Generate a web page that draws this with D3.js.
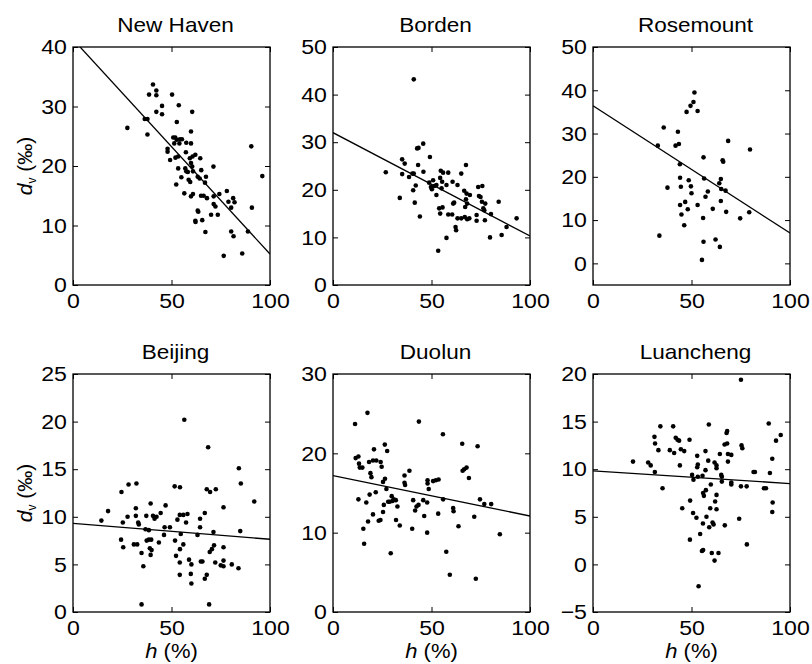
<!DOCTYPE html>
<html lang="en">
<head>
  <meta charset="UTF-8">
  <title>d-excess vs relative humidity</title>
  <script src="https://d3js.org/d3.v7.min.js"></script>
  <style>
    body { margin: 0; background: #fff; }
    svg text { font-family: "Liberation Sans", Arial, sans-serif; fill: #000; }
    .axis path { display: none; }
    .axis line { stroke: #000; stroke-width: 1; }
    .axis text { font-size: 21px; }
    .frame { fill: none; stroke: #000; stroke-width: 1.3; }
    .fit { fill: none; stroke: #000; stroke-width: 1.3; }
    .title { font-size: 20.5px; text-anchor: middle; }
    .label { font-size: 21px; text-anchor: middle; }
    .xlabel { font-size: 20px; text-anchor: middle; }
  </style>
</head>
<body>
  <div id="chart"></div>

  <script>
    const sites = ["New Haven", "Borden", "Rosemount", "Beijing", "Duolun", "Luancheng"];
    const yDomains = [[0, 40], [0, 50], [-5, 50], [0, 25], [0, 30], [-5, 20]];
    const yTicks = [
      [0, 10, 20, 30, 40],
      [0, 10, 20, 30, 40, 50],
      [0, 10, 20, 30, 40, 50],
      [0, 5, 10, 15, 20, 25],
      [0, 10, 20, 30],
      [-5, 0, 5, 10, 15, 20]
    ];
    const xTicks = [0, 50, 100];
    const fitIntercept = [41.3, 32.0, 36.4, 9.3, 17.2, 9.82];
    const fitSlope = [-0.361, -0.217, -0.294, -0.0166, -0.051, -0.0133];

    // [h (%), d_v (permil)]
    const newHaven = [
      [27.6, 26.4], [36.4, 27.9], [37.8, 27.9], [37.8, 25.3], [38.6, 32.0], [40.6, 33.7], [42.3, 32.7],
      [42.3, 31.9], [42.3, 29.1], [45.2, 30.1], [45.2, 28.7], [50.3, 32.0], [53.7, 30.2], [60.5, 29.1],
      [59.9, 25.8], [52.7, 27.4], [50.9, 24.8], [51.9, 24.8], [52.6, 24.4], [54.3, 24.5], [55.3, 24.5],
      [54.0, 23.8], [57.5, 23.9], [51.4, 23.8], [48.0, 22.9], [48.0, 22.4], [49.3, 21.0], [52.0, 21.4],
      [53.4, 21.6], [57.3, 22.3], [59.3, 21.3], [60.7, 21.6], [62.1, 21.9], [64.6, 21.3], [59.9, 20.5],
      [57.0, 19.6], [53.4, 19.6], [57.5, 19.1], [58.3, 19.0], [60.5, 19.9], [60.9, 19.1], [65.1, 19.3],
      [71.3, 19.9], [67.5, 18.2], [52.4, 16.9], [55.0, 18.1], [58.7, 17.7], [59.5, 17.3], [63.3, 18.2],
      [64.3, 17.9], [67.0, 17.2], [56.5, 15.4], [60.9, 15.3], [59.9, 14.9], [65.0, 15.0], [66.3, 15.0],
      [68.0, 14.6], [71.4, 14.9], [74.3, 15.3], [78.1, 15.8], [78.9, 14.0], [81.3, 14.6], [82.0, 13.9],
      [80.3, 13.0], [71.4, 13.6], [72.3, 13.2], [63.3, 12.5], [63.6, 12.3], [70.1, 11.8], [73.5, 11.8],
      [62.1, 10.8], [62.2, 10.6], [65.6, 10.9], [67.2, 8.9], [80.3, 9.0], [81.5, 8.2], [88.8, 9.0],
      [76.5, 4.9], [85.9, 5.3], [90.5, 23.3], [90.8, 13.0], [96.1, 18.3], [59.9, 23.8]
    ];
    const borden = [
      [26.8, 23.7], [41.0, 43.2], [33.9, 18.3], [35.1, 26.4], [36.4, 25.5], [35.1, 23.3], [38.6, 22.7],
      [40.3, 23.4], [41.0, 23.4], [40.7, 19.9], [42.0, 20.9], [41.5, 17.3], [42.7, 28.7], [43.4, 28.8],
      [45.8, 29.7], [43.2, 25.2], [45.9, 23.8], [44.1, 14.4], [49.2, 26.9], [48.8, 21.5], [49.7, 20.6],
      [50.2, 20.1], [50.8, 22.0], [51.5, 20.8], [52.5, 21.0], [52.5, 18.9], [54.4, 22.5], [54.7, 24.0],
      [55.9, 23.6], [58.5, 23.6], [55.4, 21.7], [57.6, 21.0], [60.7, 21.7], [63.2, 21.0], [65.1, 23.4],
      [67.5, 25.2], [55.1, 20.3], [53.9, 16.1], [55.6, 16.3], [54.4, 15.0], [58.5, 14.8], [60.5, 14.8],
      [61.0, 17.1], [61.5, 17.3], [63.2, 14.0], [62.2, 12.2], [62.5, 11.5], [57.6, 9.9], [53.4, 7.2],
      [66.6, 19.8], [67.8, 19.2], [69.5, 18.9], [67.5, 18.0], [67.1, 16.4], [68.1, 17.1], [66.9, 14.3],
      [68.1, 13.8], [69.2, 14.0], [65.1, 14.0], [72.9, 14.7], [72.9, 13.5], [73.7, 20.6], [75.8, 20.8],
      [74.1, 18.7], [74.9, 18.5], [75.6, 17.5], [77.3, 17.1], [76.3, 16.1], [76.8, 15.7], [80.2, 14.9],
      [77.1, 13.6], [84.1, 17.5], [88.1, 12.2], [85.6, 10.5], [79.7, 10.0], [93.2, 14.0]
    ];
    const rosemount = [
      [32.9, 27.2], [35.9, 31.4], [33.7, 6.4], [37.8, 17.5], [43.1, 30.4], [41.9, 27.2], [43.6, 27.6],
      [44.1, 22.9], [44.2, 19.8], [44.6, 17.7], [44.2, 13.5], [44.9, 11.3], [46.8, 14.2], [46.3, 8.8],
      [47.5, 35.0], [49.5, 36.4], [51.0, 37.3], [51.5, 39.5], [53.1, 35.2], [48.6, 19.2], [49.7, 17.8],
      [50.0, 16.2], [48.1, 12.5], [53.1, 13.5], [56.1, 24.5], [56.4, 19.6], [57.1, 15.4], [58.3, 16.6],
      [55.9, 10.5], [56.1, 5.0], [55.3, 0.8], [60.8, 12.6], [62.2, 5.5], [64.4, 3.8], [64.1, 18.5],
      [64.9, 19.5], [65.8, 23.8], [66.1, 23.5], [65.1, 17.2], [67.3, 16.8], [64.9, 14.4], [67.6, 11.9],
      [68.6, 28.3], [74.7, 10.4], [79.3, 11.8], [79.7, 26.3]
    ];
    const beijing = [
      [14.4, 9.6], [17.8, 10.6], [24.6, 12.6], [25.3, 9.4], [24.4, 7.6], [25.5, 6.8], [27.7, 10.0],
      [28.2, 13.4], [30.9, 7.1], [31.9, 10.1], [31.9, 10.9], [32.2, 13.5], [32.6, 7.1], [33.1, 9.4],
      [33.4, 9.2], [34.8, 6.2], [35.7, 4.8], [34.8, 0.8], [36.8, 8.7], [37.4, 7.5], [37.2, 10.1],
      [38.5, 7.6], [38.5, 8.6], [39.4, 11.4], [39.4, 6.0], [39.0, 6.7], [39.9, 6.5], [39.7, 7.6],
      [40.6, 10.1], [41.4, 9.8], [42.4, 10.0], [43.6, 7.3], [44.5, 10.4], [46.2, 8.1], [46.5, 8.9],
      [47.0, 11.2], [49.2, 8.9], [51.8, 7.5], [51.6, 13.2], [53.0, 9.7], [52.3, 5.9], [54.3, 13.1],
      [54.2, 10.2], [54.7, 8.2], [54.3, 6.6], [54.2, 5.2], [54.2, 3.9], [56.0, 10.2], [56.5, 20.2],
      [57.4, 9.4], [58.1, 10.3], [56.0, 7.1], [58.9, 5.5], [60.1, 5.0], [59.8, 4.0], [60.1, 3.0],
      [63.2, 8.1], [64.5, 9.8], [64.5, 8.9], [64.9, 5.3], [65.7, 5.3], [66.9, 10.4], [66.9, 3.5],
      [67.9, 3.9], [67.9, 12.9], [68.6, 17.3], [69.6, 12.6], [69.4, 6.3], [69.1, 0.8], [70.5, 6.6],
      [71.3, 8.4], [71.6, 7.0], [72.5, 12.9], [72.2, 5.2], [75.0, 4.9], [76.4, 6.8], [76.4, 11.0],
      [76.4, 5.4], [76.4, 4.8], [80.6, 5.0], [84.0, 4.6], [84.2, 15.1], [84.9, 8.5], [85.2, 13.5],
      [92.0, 11.6]
    ];
    const duolun = [
      [11.2, 23.7], [11.5, 19.4], [12.9, 19.6], [13.2, 18.7], [13.6, 18.2], [14.9, 18.2], [12.9, 14.2],
      [15.4, 10.5], [15.8, 8.6], [17.5, 25.1], [17.8, 11.4], [16.9, 13.8], [18.6, 14.8], [18.3, 18.9],
      [19.0, 17.5], [19.5, 17.0], [20.3, 19.1], [20.8, 20.5], [21.7, 15.1], [20.3, 12.3], [22.0, 19.1],
      [23.2, 11.5], [24.1, 11.6], [24.2, 18.9], [24.7, 18.3], [25.4, 12.6], [25.8, 13.5], [25.4, 16.4],
      [26.3, 21.1], [26.4, 16.8], [27.1, 15.5], [27.5, 20.3], [28.0, 13.9], [28.8, 13.9], [29.8, 14.6],
      [30.2, 14.0], [30.8, 14.2], [31.9, 14.1], [32.7, 13.3], [29.3, 7.4], [32.0, 11.6], [33.9, 10.9],
      [36.3, 17.2], [36.3, 16.3], [36.6, 16.0], [38.8, 17.8], [40.2, 10.5], [40.7, 14.1], [41.7, 12.8],
      [42.4, 13.3], [43.4, 13.5], [43.6, 24.0], [45.8, 14.1], [46.3, 12.1], [47.8, 13.8], [47.8, 10.0],
      [48.0, 16.6], [48.0, 16.2], [48.6, 15.5], [50.8, 16.5], [52.2, 16.6], [53.6, 16.7], [53.4, 12.4],
      [55.8, 22.4], [55.9, 14.2], [57.5, 7.6], [59.3, 4.7], [61.0, 13.1], [61.2, 12.7], [63.7, 10.8],
      [65.6, 21.2], [65.8, 17.8], [66.6, 18.0], [67.8, 18.2], [69.0, 16.9], [71.7, 12.0], [72.5, 4.2],
      [73.4, 20.9], [74.6, 14.2], [76.8, 13.6], [80.3, 13.6], [84.7, 9.8]
    ];
    const luancheng = [
      [20.3, 10.8], [28.0, 10.7], [29.3, 10.4], [31.4, 9.7], [31.2, 13.4], [31.5, 12.7], [33.2, 12.0],
      [34.2, 14.5], [35.3, 8.0], [39.0, 12.0], [40.7, 14.5], [41.2, 11.7], [42.0, 13.3], [42.9, 13.1],
      [43.7, 13.0], [44.1, 10.4], [44.6, 12.1], [46.3, 11.9], [45.3, 5.9], [49.0, 13.1], [49.3, 6.7],
      [49.2, 2.6], [50.3, 9.4], [51.0, 8.9], [50.8, 5.4], [52.5, 4.9], [52.9, 11.4], [53.2, 10.5],
      [52.9, 10.2], [53.2, 9.2], [54.4, 3.2], [55.3, 1.4], [55.9, 1.5], [53.6, -2.3], [55.6, 9.3],
      [55.9, 7.5], [56.3, 7.2], [55.8, 4.3], [57.1, 11.9], [57.1, 9.9], [57.3, 7.8], [57.6, 5.0],
      [58.8, 14.7], [58.5, 10.9], [59.0, 3.9], [59.8, 8.4], [59.5, 5.9], [60.7, 4.4], [61.2, 4.2],
      [60.3, 1.2], [61.7, 0.4], [61.7, 10.7], [62.0, 6.6], [62.7, 10.4], [62.7, 10.1], [62.7, 7.3],
      [62.7, 5.8], [63.7, 1.2], [64.4, 11.6], [65.1, 9.4], [65.4, 9.2], [65.4, 8.7], [66.9, 4.1],
      [66.8, 12.6], [67.8, 13.8], [68.1, 14.0], [68.1, 12.7], [68.5, 11.6], [68.5, 10.8], [70.2, 11.5],
      [70.2, 8.6], [70.2, 8.4], [74.2, 4.8], [75.1, 19.4], [75.4, 12.5], [75.8, 12.2], [75.1, 8.2],
      [78.0, 8.2], [78.1, 2.1], [81.5, 9.7], [82.2, 9.7], [86.8, 8.0], [87.8, 8.0], [89.2, 14.8],
      [89.8, 9.6], [91.0, 11.1], [91.2, 6.5], [91.0, 5.5], [92.9, 13.0], [95.3, 13.6]
    ];
    const points = [newHaven, borden, rosemount, beijing, duolun, luancheng];

    const width = 812, height = 664;
    const panelW = 197, panelH = 238;
    const colX = [73, 333, 593];
    const rowY = [47, 374];
    const stretch = "scale(1.1,1)"; // the source figure is slightly wider than tall

    const svg = d3.select("#chart")
      .append("svg")
      .attr("width", width)
      .attr("height", height);

    sites.forEach((site, i) => {
      const col = i % 3, row = Math.floor(i / 3);
      const g = svg.append("g")
        .attr("transform", `translate(${colX[col]},${rowY[row]})`);

      const x = d3.scaleLinear().domain([0, 100]).range([0, panelW]);
      const y = d3.scaleLinear().domain(yDomains[i]).range([panelH, 0]);

      g.append("clipPath").attr("id", `clip${i}`)
        .append("rect").attr("width", panelW).attr("height", panelH);

      // matlab style: inward ticks on all four sides, labels left and bottom
      g.append("g").attr("class", "axis")
        .attr("transform", `translate(0,${panelH})`)
        .call(d3.axisBottom(x).tickValues(xTicks).tickSizeInner(-5).tickSizeOuter(0).tickPadding(8));
      g.append("g").attr("class", "axis")
        .call(d3.axisTop(x).tickValues(xTicks).tickSizeInner(-5).tickSizeOuter(0).tickFormat(""));
      g.append("g").attr("class", "axis")
        .call(d3.axisLeft(y).tickValues(yTicks[i]).tickSizeInner(-5).tickSizeOuter(0).tickPadding(5.5));
      g.append("g").attr("class", "axis")
        .attr("transform", `translate(${panelW},0)`)
        .call(d3.axisRight(y).tickValues(yTicks[i]).tickSizeInner(-5).tickSizeOuter(0).tickFormat(""));
      g.selectAll(".axis text").attr("transform", stretch);

      g.append("g")
        .selectAll("circle")
        .data(points[i])
        .enter()
        .append("circle")
        .attr("cx", d => x(d[0]))
        .attr("cy", d => y(d[1]))
        .attr("r", 2.3)
        .attr("fill", "#000");

      const fitLine = d3.line()
        .x(h => x(h))
        .y(h => y(fitIntercept[i] + fitSlope[i] * h));
      g.append("path")
        .datum([0, 100])
        .attr("class", "fit")
        .attr("clip-path", `url(#clip${i})`)
        .attr("d", fitLine);

      g.append("rect")
        .attr("class", "frame")
        .attr("width", panelW)
        .attr("height", panelH);

      g.append("text")
        .attr("class", "title")
        .attr("transform", `translate(${panelW / 2 + 4},-15) ${stretch}`)
        .text(site);

      if (col === 0) {
        const yl = g.append("text")
          .attr("class", "label")
          .attr("transform", `translate(-41,${panelH / 2}) rotate(-90)`);
        yl.append("tspan").attr("font-style", "italic").text("d");
        yl.append("tspan").attr("font-size", 12).attr("dy", 4).text("v");
        yl.append("tspan").attr("dy", -4).text(" (\u2030)");
      }
      if (row === 1) {
        const xl = g.append("text")
          .attr("class", "xlabel")
          .attr("transform", `translate(${panelW / 2},${panelH + 46}) ${stretch}`);
        xl.append("tspan").attr("font-style", "italic").text("h");
        xl.append("tspan").text(" (%)");
      }
    });
  </script>
</body>
</html>
